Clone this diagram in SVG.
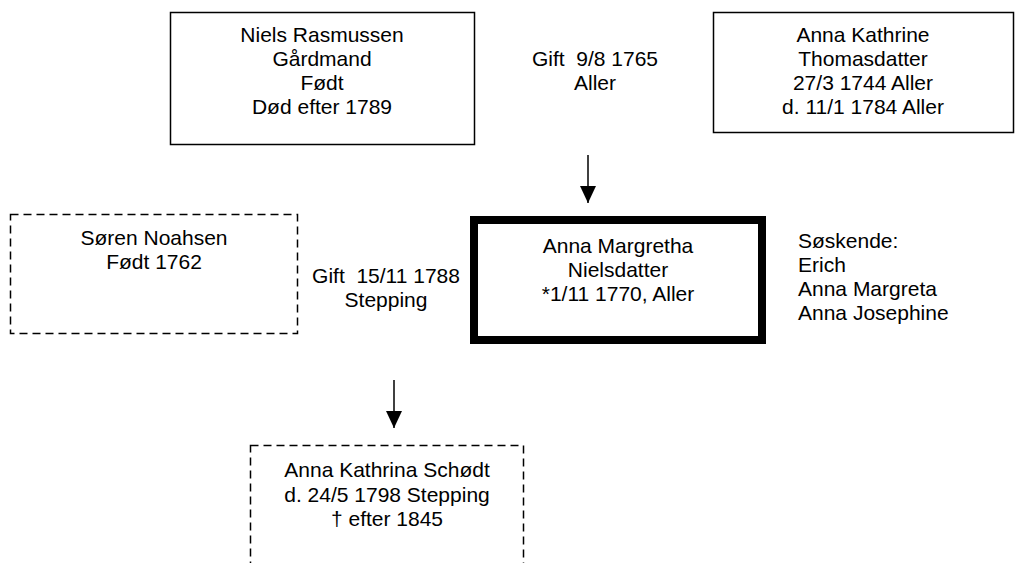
<svg xmlns="http://www.w3.org/2000/svg" width="1016" height="563" viewBox="0 0 1016 563">
<style>
text{font-family:"Liberation Sans",Arial,sans-serif;font-size:21px;fill:#000;white-space:pre}
.c{text-anchor:middle}
.box{fill:#fff;stroke:#000;stroke-width:1.5}
.dash{fill:#fff;stroke:#000;stroke-width:1.5;stroke-dasharray:8 5}
.thick{fill:#fff;stroke:#000;stroke-width:8}
.conn{stroke:#000;stroke-width:1.5;fill:none}
</style>
<defs>
<marker id="ah" markerUnits="userSpaceOnUse" markerWidth="18" markerHeight="16" refX="17" refY="8" orient="auto">
<path d="M0,0 L17,8 L0,16 Z" fill="#000"/>
</marker>
</defs>
<g id="connectors">
<line class="conn" x1="588" y1="155" x2="588" y2="203" marker-end="url(#ah)"/>
<line class="conn" x1="394" y1="380" x2="394" y2="428" marker-end="url(#ah)"/>
</g>
<g id="niels">
<rect class="box" x="170.5" y="12.5" width="304" height="132"/>
<text class="c" x="322" y="42">Niels Rasmussen</text>
<text class="c" x="322" y="66">Gårdmand</text>
<text class="c" x="322" y="90">Født</text>
<text class="c" x="322" y="114">Død efter 1789</text>
</g>
<g id="gift1">
<text class="c" x="595" y="66">Gift  9/8 1765</text>
<text class="c" x="595" y="90">Aller</text>
</g>
<g id="anna-kathrine">
<rect class="box" x="713.5" y="12.5" width="300" height="120"/>
<text class="c" x="863" y="42">Anna Kathrine</text>
<text class="c" x="863" y="66">Thomasdatter</text>
<text class="c" x="863" y="90">27/3 1744 Aller</text>
<text class="c" x="863" y="114">d. 11/1 1784 Aller</text>
</g>
<g id="soren">
<rect class="dash" x="10.5" y="214.5" width="287" height="119"/>
<text class="c" x="154" y="245">Søren Noahsen</text>
<text class="c" x="154" y="269">Født 1762</text>
</g>
<g id="gift2">
<text class="c" x="386" y="283">Gift  15/11 1788</text>
<text class="c" x="386" y="307">Stepping</text>
</g>
<g id="anna-margretha">
<rect class="thick" x="474" y="220" width="288" height="120"/>
<text class="c" x="618" y="253">Anna Margretha</text>
<text class="c" x="618" y="277">Nielsdatter</text>
<text class="c" x="618" y="301">*1/11 1770, Aller</text>
</g>
<g id="soskende">
<text x="798" y="248">Søskende:</text>
<text x="798" y="272">Erich</text>
<text x="798" y="296">Anna Margreta</text>
<text x="798" y="320">Anna Josephine</text>
</g>
<g id="anna-kathrina">
<rect class="dash" x="250.5" y="445.5" width="273" height="140"/>
<text class="c" x="387" y="477">Anna Kathrina Schødt</text>
<text class="c" x="387" y="502">d. 24/5 1798 Stepping</text>
<text class="c" x="387" y="526">† efter 1845</text>
</g>
</svg>
